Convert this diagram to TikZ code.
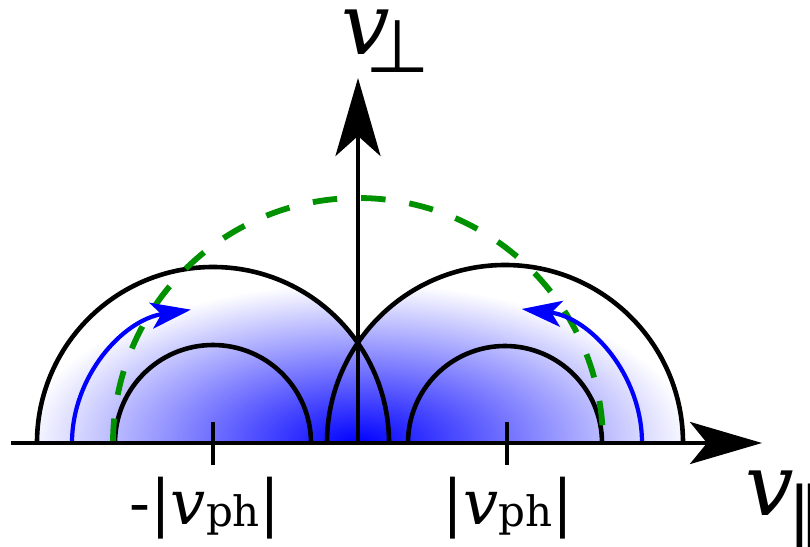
\documentclass[tikz,border=0pt]{standalone}
\usepackage{fontspec}
\setmainfont{DejaVu Serif}
\newfontfamily\perpfont{DejaVu Sans}
\usepackage{tikz}
\usetikzlibrary{arrows.meta,calc}

\definecolor{resgreen}{RGB}{0,145,0}

\begin{document}
\begin{tikzpicture}[x=1pt,y=1pt,
  axis/.style={line width=4.6pt},
  halfc/.style={line width=4.6pt},
  res/.style={resgreen,line width=5.8pt,dash pattern=on 24.5pt off 24pt},
  orbit/.style={blue,line width=4.2pt,-{Stealth[length=40pt,width=26pt,inset=10pt]}},
  lbl/.style={inner sep=0pt,font={\fontsize{62}{62}\selectfont}},
  big/.style={inner sep=0pt,font={\fontsize{86}{86}\selectfont}}]
  \path[use as bounding box] (-358,-103) rectangle (452,443);
  \coordinate (O) at (0,0);
  \coordinate (cL) at (-145,0);
  \coordinate (cR) at (147,0);
  \coordinate (xs) at (-347,0);
  \coordinate (xe) at (404,0);
  \coordinate (ye) at (0,365);
  % shaded distribution
  \begin{scope}
    \clip (cL) ++(176,0) arc[start angle=0,end angle=180,radius=176] -- cycle
          (cR) ++(178,0) arc[start angle=0,end angle=180,radius=178] -- cycle;
    \shade[inner color=blue,outer color=white] (-335,-160) rectangle (335,160);
  \end{scope}
  % half circles
  \draw[halfc] (cL) ++(176,0) arc[start angle=0,end angle=180,radius=176];
  \draw[halfc] (cL) ++(98,0) arc[start angle=0,end angle=180,radius=98];
  \draw[halfc] (cR) ++(178,0) arc[start angle=0,end angle=180,radius=178];
  \draw[halfc] (cR) ++(97,0) arc[start angle=0,end angle=180,radius=97];
  % resonant circle
  \draw[res] (O) ++(-245,0) arc[start angle=180,end angle=0,radius=245];
  % orbits
  \draw[orbit] (cL) ++(-141,0) arc[start angle=180,end angle=99,x radius=141,y radius=135];
  \draw[orbit] (cR) ++(137,0) arc[start angle=0,end angle=83,x radius=137,y radius=135];
  % axes
  \draw[axis,-{Stealth[length=72pt,width=42pt,inset=17pt]}] (xs) -- (xe);
  \draw[axis,-{Stealth[length=78pt,width=45pt,inset=20pt]}] (O) -- (ye);
  \draw[axis] ($(cL)+(0,21)$) -- ($(cL)+(0,-22)$);
  \draw[axis] ($(cR)+(2,21)$) -- ($(cR)+(2,-22)$);
  % labels
  \node[lbl,anchor=base] (vminus) at (-153,-81) {-|\textit{v}\raisebox{-2pt}{\fontsize{42}{42}\selectfont ph}|};
  \node[lbl,anchor=base] (vplus) at (150,-81) {|\textit{v}\raisebox{-2pt}{\fontsize{42}{42}\selectfont ph}|};
  \node[big,anchor=base west] (vperp) at (-17,388) {\textit{v}\kern-24pt\raisebox{-18pt}{\perpfont\fontsize{74}{74}\selectfont ⊥}};
  \node[big,anchor=base west] (vpar) at (387,-72) {\textit{v}\kern-6pt\raisebox{-24pt}{\perpfont\fontsize{72}{72}\selectfont ∥}};
\end{tikzpicture}
\end{document}
